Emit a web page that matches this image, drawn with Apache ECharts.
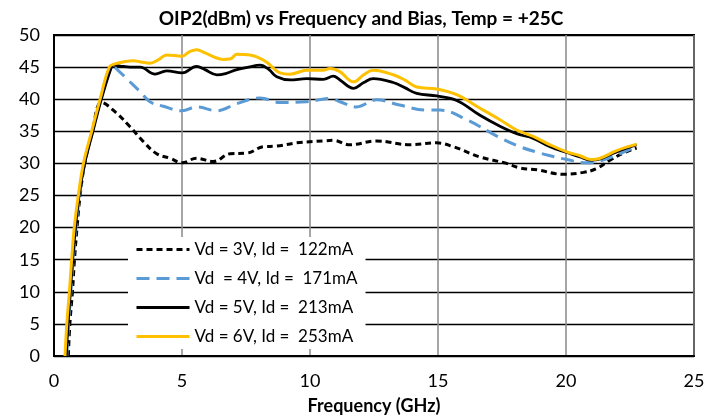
<!DOCTYPE html>
<html>
<head>
<meta charset="utf-8">
<script src="https://cdn.jsdelivr.net/npm/echarts@6/dist/echarts.min.js"></script>
<style>
  html, body { margin: 0; padding: 0; background: #fff; }
  #chart1 { width: 722px; height: 417px; }
</style>
</head>
<body>
<div id="chart1"></div>
<script>
// 各偏置下的 OIP2 曲线数据 [频率GHz, dBm]
var vd3 = [[0.56,0],[0.62,5],[0.72,10],[0.8,15],[0.9,20],[1.02,25],[1.2,30],[1.5,35],[1.86,39.5],[2.45,37.8],[2.97,35.7],[3.49,33.4],[4.01,31.5],[4.53,30.8],[5.0,30.1],[5.57,30.8],[6.22,30.3],[6.88,31.5],[7.53,31.6],[8.18,32.6],[8.7,32.7],[9.48,33.2],[10.52,33.5],[10.91,33.6],[11.56,32.9],[12.6,33.5],[13.9,32.9],[14.95,33.2],[15.6,32.6],[16.64,31.0],[17.68,30.0],[18.2,29.3],[18.86,29.0],[19.9,28.3],[20.68,28.6],[21.2,29.2],[21.72,30.5],[22.24,31.6],[22.76,32.4]];
var vd4 = [[0.5,0],[0.57,5],[0.66,10],[0.75,15],[0.86,20],[1.0,25],[1.2,30],[1.5,35],[1.82,40],[2.1,44],[2.25,45.3],[2.5,44.5],[2.84,43.2],[3.36,41.2],[3.75,39.6],[4.27,38.9],[5.0,38.2],[5.57,38.8],[6.36,38.2],[7.14,39.3],[8.05,40.2],[8.83,39.5],[9.87,39.6],[10.78,40.1],[11.17,39.6],[11.82,38.8],[12.6,39.9],[13.5,39.1],[14.56,38.3],[15.08,38.3],[16.12,36.8],[17.42,34.0],[18.2,32.6],[18.9,31.7],[19.38,31.2],[20.03,30.6],[20.81,30.1],[21.33,30.4],[21.98,31.3],[22.76,32.7]];
var vd5 = [[0.48,0],[0.55,5],[0.64,10],[0.73,15],[0.84,20],[0.98,25],[1.2,30],[1.52,35],[1.85,40],[2.2,44.5],[2.32,45.3],[2.7,45.1],[2.97,45.0],[3.36,45.0],[3.95,43.9],[4.4,44.4],[5.01,44.1],[5.57,45.1],[5.9,44.6],[6.36,43.8],[6.7,44.0],[7.14,44.6],[7.6,45.0],[8.05,45.3],[8.4,44.6],[8.7,43.5],[9.22,43.0],[9.87,43.2],[10.52,43.1],[10.91,43.6],[11.17,43.0],[11.7,41.7],[12.1,42.6],[12.47,43.2],[13.25,42.6],[13.7,41.8],[14.17,40.9],[14.95,40.5],[15.73,39.8],[16.64,37.5],[17.42,35.8],[18.1,34.6],[18.72,33.9],[19.38,32.6],[20.03,31.7],[20.55,31.0],[21.0,30.5],[21.33,30.7],[21.98,31.8],[22.76,32.9]];
var vd6 = [[0.43,0],[0.5,5],[0.6,10],[0.69,15],[0.79,20],[0.95,25],[1.15,30],[1.47,35],[1.8,40],[2.16,45],[2.38,45.5],[2.7,45.8],[3.1,46.0],[3.4,45.8],[3.75,45.6],[4.1,46.2],[4.4,46.9],[5.0,46.7],[5.3,47.4],[5.57,47.7],[5.9,47.2],[6.3,46.5],[6.6,46.2],[6.9,46.3],[7.14,47.0],[7.66,46.9],[7.92,46.6],[8.3,45.8],[8.83,44.1],[9.22,43.9],[9.87,44.5],[10.5,44.5],[10.78,44.8],[11.17,44.3],[11.7,42.7],[12.1,43.8],[12.47,44.5],[13.25,43.8],[13.7,43.0],[14.17,41.9],[14.95,41.6],[15.73,40.7],[16.64,38.6],[17.42,36.8],[18.07,35.2],[18.72,34.2],[19.38,32.9],[20.03,31.8],[20.55,31.2],[21.0,30.6],[21.33,30.8],[21.98,32.0],[22.76,33.0]];

var names = ['Vd = 3V, Id =  122mA', 'Vd  = 4V, Id =  171mA', 'Vd = 5V, Id =  213mA', 'Vd = 6V, Id =  253mA'];
var titleText = 'OIP2(dBm) vs Frequency and Bias, Temp = +25C';
var xName = 'Frequency (GHz)';

var font = 'Lato, "Open Sans", sans-serif';

function line(name, data, color, width, dash) {
    return {
        type: 'line',
        name: name,
        data: data,
        smooth: 0.4,
        symbol: 'none',
        showSymbol: false,
        lineStyle: { color: color, width: width, type: dash },
        itemStyle: { color: color }
    };
}

var chart = echarts.init(document.getElementById('chart1'));

chart.setOption({
    animation: false,
    textStyle: { fontFamily: font },
    title: {
        text: titleText,
        left: 'center',
        top: 4,
        textStyle: { fontFamily: font, fontSize: 19, fontWeight: 'bold', color: '#000' }
    },
    grid: {
        left: 54, right: 28, top: 35, bottom: 61,
        outerBoundsMode: 'none',
        show: true, borderColor: '#000', borderWidth: 2, backgroundColor: '#fff'
    },
    legend: {
        orient: 'vertical',
        left: 128,
        top: 237,
        backgroundColor: '#fff',
        padding: [4, 8, 4, 7],
        itemWidth: 53,
        itemHeight: 14,
        itemGap: 12,
        itemStyle: { opacity: 0 },
        lineStyle: { width: 3 },
        textStyle: { fontFamily: font, fontSize: 17, color: '#000' },
        data: names
    },
    xAxis: {
        type: 'value',
        min: 0, max: 25, interval: 5,
        name: xName,
        nameLocation: 'middle',
        nameGap: 41,
        nameTextStyle: { fontFamily: font, fontSize: 18, fontWeight: 'bold', color: '#000' },
        axisLine: { show: true, lineStyle: { color: '#000', width: 2 } },
        axisTick: { show: false },
        axisLabel: { fontFamily: font, fontSize: 18, color: '#000', margin: 16 },
        splitLine: { show: true, lineStyle: { color: '#888', width: 1.5 } }
    },
    yAxis: {
        type: 'value',
        min: 0, max: 50, interval: 5,
        axisLine: { show: true, lineStyle: { color: '#000', width: 2 } },
        axisTick: { show: false },
        axisLabel: { fontFamily: font, fontSize: 18, color: '#000', margin: 14 },
        splitLine: { show: true, lineStyle: { color: '#000', width: 1.3 } }
    },
    series: [
        line(names[0], vd3, '#000', 3, [6, 4]),
        line(names[1], vd4, '#5B9BD5', 3, [13, 7]),
        line(names[2], vd5, '#000', 2.8, 'solid'),
        line(names[3], vd6, '#FFC000', 3, 'solid')
    ]
});
</script>
</body>
</html>
